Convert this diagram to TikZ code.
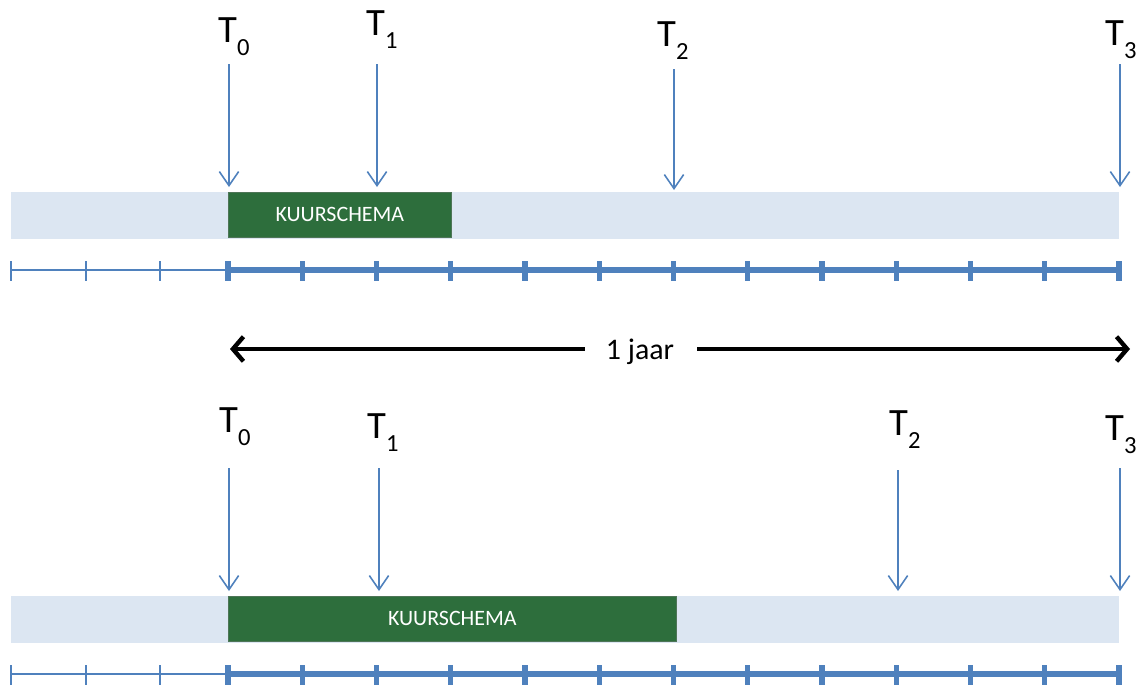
\documentclass[tikz,border=0pt]{standalone}
\usepackage{fontspec}
\setmainfont{Carlito}
\usetikzlibrary{arrows.meta}

\definecolor{barblue}{RGB}{220,230,242}
\definecolor{kuurgreen}{RGB}{45,110,60}
\definecolor{lineblue}{RGB}{79,129,189}

\newcommand{\tmoment}[1]{T\raisebox{-7.4pt}{\fontsize{14}{14}\selectfont #1}}

\tikzset{
  bar/.style={fill=barblue,anchor=north west,inner sep=0pt,minimum width=22.16cm,minimum height=0.93cm},
  kuur/.style={fill=kuurgreen,draw=kuurgreen!60!gray,line width=0.4pt,text=white,anchor=north west,inner sep=0pt,
    minimum height=0.9cm,font=\fontsize{12.5}{12.5}\selectfont},
  tlab/.style={anchor=base west,inner sep=0pt,font=\fontsize{22}{22}\selectfont},
  meet/.style={lineblue,line width=0.9pt,-{Straight Barb[length=8pt,width=11pt]}},
  thinaxis/.style={lineblue,line width=1.2pt},
  thickaxis/.style={lineblue,line width=3pt},
  thintick/.style={lineblue,line width=1pt},
  thicktick/.style={lineblue,line width=3pt},
  year/.style={line width=2.5pt,-{Straight Barb[length=6pt,width=14pt]}}
}

\begin{document}
\begin{tikzpicture}[x={(0.02cm,0)},y={(0,-0.02cm)}]
\useasboundingbox (0,0) rectangle (1147,684);

% bovenste tijdlijn
\node[bar] (bar1) at (11,192) {};
\node[kuur,minimum width=4.46cm] (kuur1) at (228,192) {KUURSCHEMA};
\draw[thinaxis] (11,270) -- (228,270);
\draw[thickaxis] (228,270) -- (1119,270);
\foreach \x in {11,86,160} \draw[thintick] (\x,261) -- (\x,281);
\foreach \i in {0,...,12} \draw[thicktick] ({228+\i*74.25},261) -- ++(0,20);

\node[tlab] (ta0) at (218,42) {\tmoment{0}};
\node[tlab] (ta1) at (366,35) {\tmoment{1}};
\node[tlab] (ta2) at (657,46) {\tmoment{2}};
\node[tlab] (ta3) at (1105,45) {\tmoment{3}};
\coordinate (sa0) at (229,64);  \coordinate (ea0) at (229,187);
\coordinate (sa1) at (377,64);  \coordinate (ea1) at (377,187);
\coordinate (sa2) at (674,69);  \coordinate (ea2) at (674,190);
\coordinate (sa3) at (1120,64); \coordinate (ea3) at (1120,187);
\foreach \i in {0,...,3} \draw[meet] (sa\i) -- (ea\i);

% 1 jaar
\node[font=\fontsize{17}{17}\selectfont,inner sep=0pt] (jaar) at (640,352) {1 jaar};
\coordinate (yl) at (230,349);
\coordinate (yr) at (1130,349);
\draw[year] ([xshift=-12pt]jaar.west |- yl) -- (yl);
\draw[year] ([xshift=13pt]jaar.east |- yr) -- (yr);

% onderste tijdlijn
\begin{scope}[shift={(0,404)}]
\node[bar] (bar2) at (11,192) {};
\node[kuur,minimum width=8.96cm] (kuur2) at (228,192) {KUURSCHEMA};
\draw[thinaxis] (11,270) -- (228,270);
\draw[thickaxis] (228,270) -- (1119,270);
\foreach \x in {11,86,160} \draw[thintick] (\x,261) -- (\x,281);
\foreach \i in {0,...,12} \draw[thicktick] ({228+\i*74.25},261) -- ++(0,20);
\end{scope}

\node[tlab] (tb0) at (219,432) {\tmoment{0}};
\node[tlab] (tb1) at (367,438) {\tmoment{1}};
\node[tlab] (tb2) at (889,435) {\tmoment{2}};
\node[tlab] (tb3) at (1105,440) {\tmoment{3}};
\coordinate (sb0) at (229,468);  \coordinate (eb0) at (229,591);
\coordinate (sb1) at (379,468);  \coordinate (eb1) at (379,591);
\coordinate (sb2) at (898,470);  \coordinate (eb2) at (898,591);
\coordinate (sb3) at (1120,468); \coordinate (eb3) at (1120,591);
\foreach \i in {0,...,3} \draw[meet] (sb\i) -- (eb\i);
\end{tikzpicture}
\end{document}
